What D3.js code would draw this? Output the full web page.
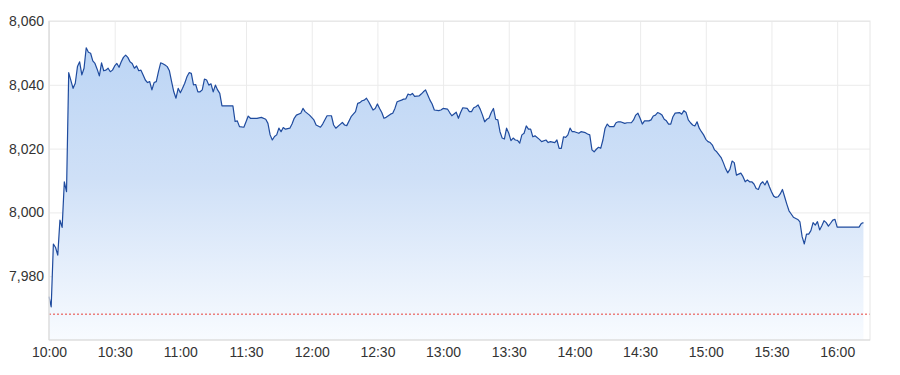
<!DOCTYPE html>
<html>
<head>
<meta charset="utf-8">
<script src="https://cdn.jsdelivr.net/npm/d3@7"></script>
<style>
  body { margin: 0; background: #fff; }
  svg text { font-family: "Liberation Sans", Arial, sans-serif; }
</style>
</head>
<body>
<div id="chart"></div>
<script>
// minutes after 10:00 and index level at that minute
const minutes = [
  0, 1, 2, 3, 4, 5, 6, 7, 8, 9, 11, 12, 13, 14, 15, 16, 17, 18, 19, 20,
  21, 22, 23, 24, 25, 26, 27, 28, 29, 30, 31, 32, 33, 34, 35, 36, 37, 38, 39, 40,
  41, 42, 43, 44, 45, 46, 47, 48, 49, 50, 51, 52, 53, 54, 55, 56, 57, 58, 59, 60,
  61, 62, 63, 64, 65, 66, 67, 68, 69, 70, 71, 72, 73, 74, 75, 76, 77, 78, 79, 81,
  84, 85, 86, 87, 89, 90, 91, 92, 95, 97, 99, 100, 101, 102, 103, 104, 105, 106, 107, 108,
  110, 111, 112, 113, 115, 116, 117, 119, 121, 122, 124, 125, 127, 129, 130, 131, 133, 134, 135, 136,
  138, 140, 141, 142, 143, 144, 145, 146, 147, 148, 149, 150, 151, 152, 153, 154, 156, 157, 158, 159,
  161, 162, 163, 164, 165, 166, 167, 169, 170, 171, 172, 173, 174, 175, 176, 178, 179, 180, 182, 183,
  184, 186, 187, 188, 189, 191, 192, 193, 194, 195, 196, 197, 198, 199, 200, 201, 202, 203, 204, 205,
  206, 207, 208, 209, 210, 211, 212, 213, 214, 215, 216, 217, 218, 219, 220, 221, 222, 224, 225, 227,
  228, 229, 231, 232, 233, 234, 235, 236, 237, 238, 239, 240, 242, 243, 245, 246, 247, 248, 249, 250,
  251, 252, 253, 254, 255, 256, 258, 259, 260, 261, 263, 264, 266, 267, 268, 269, 270, 271, 272, 274,
  275, 276, 277, 278, 279, 280, 281, 282, 283, 284, 285, 286, 287, 288, 289, 290, 291, 292, 293, 294,
  295, 296, 297, 298, 299, 300, 301, 302, 303, 304, 305, 307, 308, 309, 310, 311, 312, 313, 314, 315,
  316, 317, 318, 319, 320, 321, 322, 323, 324, 325, 326, 327, 328, 329, 330, 331, 332, 333, 334, 335,
  336, 337, 338, 339, 340, 342, 343, 344, 345, 346, 347, 348, 349, 350, 351, 352, 353, 354, 355, 356,
  357, 358, 359, 360, 370, 371, 372
];

const prices = [
  7973.6, 7970.4, 7990.1, 7989.0, 7986.6, 7997.6, 7995.3, 8009.6, 8006.5, 8043.8, 8038.9, 8040.5, 8045.7, 8047.2, 8043.1, 8045.2, 8051.6, 8050.2, 8049.9, 8047.5,
  8046.7, 8044.9, 8042.8, 8046.9, 8044.4, 8044.6, 8045.2, 8044.1, 8044.6, 8045.9, 8046.7, 8045.5, 8047.2, 8048.6, 8049.3, 8048.6, 8047.2, 8046.7, 8045.2, 8045.9,
  8044.4, 8044.6, 8043.1, 8041.5, 8040.7, 8041.0, 8038.4, 8040.7, 8041.0, 8044.1, 8046.9, 8046.6, 8046.2, 8045.7, 8044.4, 8041.0, 8037.8, 8035.8, 8038.9, 8037.5,
  8038.9, 8040.5, 8042.5, 8043.8, 8043.6, 8040.0, 8040.1, 8037.8, 8037.8, 8038.4, 8041.8, 8041.5, 8039.9, 8040.3, 8037.8, 8039.9, 8038.4, 8037.3, 8033.4, 8033.4,
  8033.4, 8028.5, 8028.7, 8026.9, 8026.7, 8028.4, 8030.2, 8029.5, 8029.5, 8029.8, 8029.2, 8027.9, 8024.3, 8022.7, 8023.8, 8024.3, 8026.4, 8025.3, 8026.6, 8026.1,
  8026.4, 8027.7, 8029.5, 8030.5, 8031.1, 8032.6, 8031.6, 8030.5, 8029.0, 8027.4, 8026.7, 8027.7, 8030.3, 8030.3, 8027.4, 8026.4, 8027.6, 8028.2, 8027.4, 8027.2,
  8030.0, 8031.6, 8034.2, 8034.4, 8035.0, 8035.2, 8035.8, 8034.7, 8033.4, 8032.1, 8032.6, 8034.0, 8032.6, 8031.3, 8029.5, 8029.8, 8030.8, 8031.1, 8032.6, 8034.7,
  8035.2, 8035.5, 8035.6, 8037.1, 8036.8, 8037.3, 8036.4, 8036.5, 8037.1, 8037.8, 8038.4, 8036.8, 8035.2, 8034.0, 8032.1, 8031.9, 8032.1, 8032.6, 8032.4, 8031.3,
  8030.3, 8031.4, 8029.5, 8031.3, 8032.8, 8032.6, 8031.6, 8031.6, 8032.8, 8033.1, 8033.7, 8032.3, 8030.5, 8028.4, 8029.2, 8029.6, 8031.3, 8032.6, 8029.2, 8029.0,
  8025.3, 8023.3, 8023.0, 8026.4, 8024.8, 8022.5, 8023.3, 8022.7, 8022.6, 8021.7, 8024.3, 8024.8, 8027.1, 8026.1, 8026.1, 8023.7, 8024.0, 8022.9, 8022.2, 8022.7,
  8021.9, 8022.2, 8021.9, 8022.7, 8020.1, 8020.1, 8023.7, 8023.5, 8024.3, 8026.4, 8025.3, 8025.3, 8024.8, 8025.3, 8025.0, 8024.6, 8024.3, 8019.6, 8019.0, 8019.8,
  8020.4, 8020.1, 8022.7, 8026.4, 8027.7, 8026.9, 8026.9, 8028.1, 8028.4, 8028.4, 8027.9, 8028.1, 8028.1, 8029.0, 8030.5, 8031.1, 8029.5, 8027.7, 8028.7, 8028.7,
  8029.0, 8030.2, 8030.5, 8031.3, 8031.0, 8030.5, 8029.2, 8028.7, 8027.7, 8027.7, 8030.0, 8031.1, 8031.2, 8031.3, 8030.8, 8031.9, 8031.3, 8029.0, 8028.1, 8027.4,
  8027.1, 8028.4, 8026.4, 8025.3, 8024.3, 8022.9, 8022.2, 8021.9, 8021.1, 8019.6, 8019.0, 8017.2, 8015.6, 8013.8, 8012.4, 8013.5, 8016.1, 8015.6, 8011.7, 8012.0,
  8012.3, 8011.2, 8009.6, 8010.2, 8009.6, 8009.6, 8008.9, 8007.5, 8007.2, 8008.9, 8009.6, 8008.6, 8009.9, 8008.1, 8006.5, 8005.1, 8004.7, 8004.9, 8005.8, 8007.2,
  8004.9, 8002.6, 8000.5, 7999.5, 7998.5, 7997.8, 7997.0, 7992.4, 7990.1, 7993.2, 7993.2, 7994.3, 7996.8, 7996.0, 7997.1, 7994.5, 7995.8, 7997.4, 7996.8, 7995.7,
  7996.6, 7997.6, 7997.8, 7995.4, 7995.4, 7996.5, 7996.8
];

const prevClose = 7968.1;
const yTicks = [7980, 8000, 8020, 8040, 8060];
const xTickLabels = ["10:00", "10:30", "11:00", "11:30", "12:00", "12:30", "13:00", "13:30", "14:00", "14:30", "15:00", "15:30", "16:00"];
const sessionStart = "10:00";
const sessionEnd = "16:15";
const yRange = [7960, 8060];

const margin = { top: 21, right: 30, bottom: 35, left: 49 };
const width = 900 - margin.left - margin.right;
const height = 375 - margin.top - margin.bottom;

const parseTime = d3.timeParse("%H:%M");
const t0 = parseTime(sessionStart);

const data = minutes.map((m, i) => ({
  time: d3.timeMinute.offset(t0, m),
  price: prices[i],
}));

const xScale = d3
  .scaleTime()
  .domain([t0, parseTime(sessionEnd)])
  .range([0, width]);

const yScale = d3.scaleLinear().domain(yRange).range([height, 0]);

const svg = d3
  .select("#chart")
  .append("svg")
  .attr("width", 900)
  .attr("height", 375)
  .append("g")
  .attr("transform", "translate(" + margin.left + "," + margin.top + ")");

// gradient for the area
const defs = svg.append("defs");
const grad = defs
  .append("linearGradient")
  .attr("id", "areaFill")
  .attr("gradientUnits", "userSpaceOnUse")
  .attr("x1", 0)
  .attr("y1", yScale(8052))
  .attr("x2", 0)
  .attr("y2", height);
grad.append("stop").attr("offset", "0%").attr("stop-color", "#bcd5f5");
grad.append("stop").attr("offset", "45%").attr("stop-color", "#cfe0f7");
grad.append("stop").attr("offset", "100%").attr("stop-color", "#f8fbff");

// grid lines
svg
  .append("g")
  .attr("class", "grid")
  .call(d3.axisLeft(yScale).tickValues(yTicks).tickSize(-width).tickFormat(""))
  .call((g) => g.select(".domain").remove())
  .call((g) => g.selectAll("line").attr("stroke", "#ebebeb"));

svg
  .append("g")
  .attr("class", "grid")
  .attr("transform", "translate(0," + height + ")")
  .call(
    d3
      .axisBottom(xScale)
      .tickValues(xTickLabels.map(parseTime))
      .tickSize(-height)
      .tickFormat("")
  )
  .call((g) => g.select(".domain").remove())
  .call((g) => g.selectAll("line").attr("stroke", "#ebebeb"));

// area + line
const area = d3
  .area()
  .x((d) => xScale(d.time))
  .y0(height)
  .y1((d) => yScale(d.price));

const line = d3
  .line()
  .x((d) => xScale(d.time))
  .y((d) => yScale(d.price));

svg.append("path").datum(data).attr("d", area).attr("fill", "url(#areaFill)");

svg
  .append("path")
  .datum(data)
  .attr("d", line)
  .attr("fill", "none")
  .attr("stroke", "#1f4b9e")
  .attr("stroke-width", 1.2)
  .attr("stroke-linejoin", "round");

// previous close
svg
  .append("line")
  .attr("x1", 0)
  .attr("x2", width)
  .attr("y1", yScale(prevClose))
  .attr("y2", yScale(prevClose))
  .attr("stroke", "#e8413a")
  .attr("stroke-width", 1)
  .attr("stroke-dasharray", "2,2");

// frame
svg
  .append("rect")
  .attr("x", 0)
  .attr("y", 0)
  .attr("width", width)
  .attr("height", height)
  .attr("fill", "none")
  .attr("stroke", "#e6e6e6");

svg
  .append("line")
  .attr("x1", 0)
  .attr("x2", width)
  .attr("y1", height)
  .attr("y2", height)
  .attr("stroke", "#d9d9d9");

svg
  .append("line")
  .attr("x1", 0)
  .attr("x2", 0)
  .attr("y1", 0)
  .attr("y2", height)
  .attr("stroke", "#d9d9d9");

// axes
svg
  .append("g")
  .call(
    d3
      .axisLeft(yScale)
      .tickValues(yTicks)
      .tickSize(0)
      .tickPadding(5)
      .tickFormat(d3.format(","))
  )
  .call((g) => g.select(".domain").remove())
  .call((g) =>
    g.selectAll("text").attr("fill", "#333").style("font-size", "14px")
  );

svg
  .append("g")
  .attr("transform", "translate(0," + height + ")")
  .call(
    d3
      .axisBottom(xScale)
      .tickValues(xTickLabels.map(parseTime))
      .tickSize(0)
      .tickPadding(7)
      .tickFormat(d3.timeFormat("%H:%M"))
  )
  .call((g) => g.select(".domain").remove())
  .call((g) =>
    g.selectAll("text").attr("fill", "#333").style("font-size", "14px")
  );
</script>
</body>
</html>
